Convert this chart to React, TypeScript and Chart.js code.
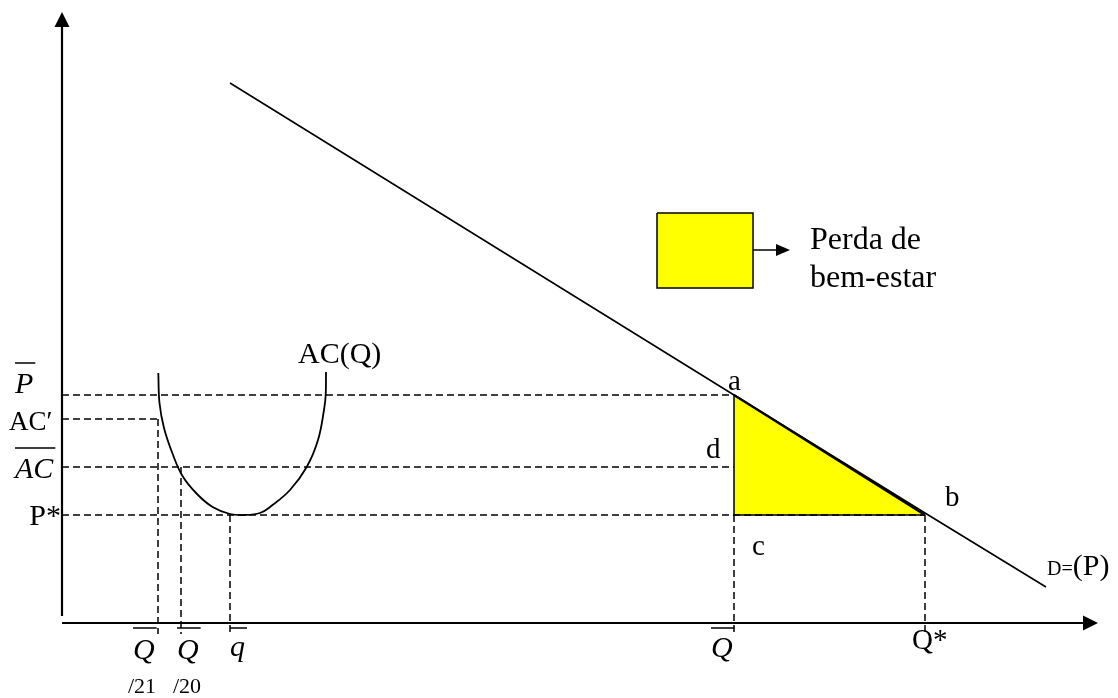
import React, { useEffect, useRef } from "react";
import { Chart, registerables } from "chart.js";
Chart.register(...registerables);

// ---- Diagram values (quantity on x, price on y, arbitrary units) ----
const quantityNames = ["Q̄/21", "Q̄/20", "q̄", "Q̄", "Q*"];
const quantityValues = [9.6, 11.9, 16.8, 67.2, 86.3];
const priceNames = ["P̄", "AC′", "AC̄", "P*"];
const priceValues = [22.8, 20.4, 15.6, 10.8];

// Demand curve D=(P)
const demandQ = [16.8, 67.2, 86.3, 98.4];
const demandP = [54.0, 22.8, 11.0, 3.6];

// Average cost curve AC(Q)
const acCurveQ = [9.63, 9.75, 10.2, 11.03, 12.05, 13.5, 15.06, 16.8, 18.3, 19.8, 20.8, 22.8, 24.47, 25.6, 26.2, 26.37, 26.4];
const acCurveP = [25.0, 22.0, 19.5, 17.0, 14.7, 12.9, 11.6, 10.9, 10.8, 11.0, 11.6, 13.3, 15.6, 18.3, 21.3, 22.8, 25.1];

// Legend box (welfare loss) extent
const legendBoxQ = [59.5, 69.1];
const legendBoxP = [33.5, 41.0];
const legendArrowQ = [69.1, 72.8];
const legendArrowP = 37.3;

// Axes extent
const axisQMax = 103.6;
const axisPMax = 61.1;
const axisPMin = 0.7;
const guideBottom = -1.1;

const [Q21, Q20, qBar, QBar, QStar] = quantityValues;
const [PBar, ACprime, ACBar, PStar] = priceValues;

type Label = {
  text: string;
  x: number;
  y: number;
  size: number;
  italic?: boolean;
  align?: CanvasTextAlign;
  overline?: number; // data y of overline
};

const labels: Label[] = [
  { text: "P", x: -4.7, y: 23.0, size: 30, italic: true, overline: 26.0 },
  { text: "AC′", x: -5.3, y: 19.3, size: 27 },
  { text: "AC", x: -4.7, y: 14.5, size: 30, italic: true, overline: 17.5 },
  { text: "P*", x: -0.1, y: 9.8, size: 30, align: "right" },
  { text: "AC(Q)", x: 23.6, y: 26.0, size: 30 },
  { text: "a", x: 66.6, y: 23.3, size: 29 },
  { text: "d", x: 64.4, y: 16.5, size: 29 },
  { text: "b", x: 88.3, y: 11.7, size: 29 },
  { text: "c", x: 69.0, y: 6.8, size: 29 },
  { text: "Q", x: 7.1, y: -3.6, size: 30, italic: true, overline: -0.5 },
  { text: "/21", x: 6.6, y: -7.0, size: 22 },
  { text: "Q", x: 11.5, y: -3.6, size: 30, italic: true, overline: -0.5 },
  { text: "/20", x: 11.1, y: -7.0, size: 22 },
  { text: "q", x: 16.8, y: -3.3, size: 30, italic: true, overline: -0.5 },
  { text: "Q", x: 64.9, y: -3.4, size: 30, italic: true, overline: -0.5 },
  { text: "Q*", x: 85.0, y: -2.6, size: 29 },
  { text: "Perda de", x: 74.8, y: 37.4, size: 32 },
  { text: "bem-estar", x: 74.8, y: 33.6, size: 32 },
];

const FONT = '"Liberation Serif", "Times New Roman", serif';

const pts = (xs: number[], ys: number[]) => xs.map((x, i) => ({ x, y: ys[i] }));

const solid = (data: { x: number; y: number }[], width = 1.5, extra: any = {}) => ({
  data,
  borderColor: "#000",
  borderWidth: width,
  pointRadius: 0,
  fill: false,
  tension: 0,
  order: 1,
  ...extra,
});
const dashed = (data: { x: number; y: number }[]) =>
  solid(data, 1.5, { borderDash: [7, 4] });

const drawPlugin = {
  id: "diagramDecor",
  afterDatasetsDraw(chart: any) {
    const { ctx } = chart;
    const xs = chart.scales.x;
    const ys = chart.scales.y;
    const px = (v: number) => xs.getPixelForValue(v);
    const py = (v: number) => ys.getPixelForValue(v);
    ctx.save();
    ctx.fillStyle = "#000";
    ctx.strokeStyle = "#000";
    // Axis arrowheads
    const yt = { x: px(0), y: py(axisPMax) };
    ctx.beginPath();
    ctx.moveTo(yt.x, yt.y);
    ctx.lineTo(yt.x - 7.5, yt.y + 15);
    ctx.lineTo(yt.x + 7.5, yt.y + 15);
    ctx.closePath();
    ctx.fill();
    const xt = { x: px(axisQMax), y: py(0) };
    ctx.beginPath();
    ctx.moveTo(xt.x, xt.y);
    ctx.lineTo(xt.x - 15, xt.y - 7.5);
    ctx.lineTo(xt.x - 15, xt.y + 7.5);
    ctx.closePath();
    ctx.fill();
    // Legend arrowhead
    const lt = { x: px(legendArrowQ[1]), y: py(legendArrowP) };
    ctx.beginPath();
    ctx.moveTo(lt.x, lt.y);
    ctx.lineTo(lt.x - 14, lt.y - 6);
    ctx.lineTo(lt.x - 14, lt.y + 6);
    ctx.closePath();
    ctx.fill();
    // Labels
    ctx.textBaseline = "alphabetic";
    labels.forEach((l) => {
      ctx.font = `${l.italic ? "italic " : ""}${l.size}px ${FONT}`;
      ctx.textAlign = l.align || "left";
      const x = px(l.x);
      const y = py(l.y);
      ctx.fillText(l.text, x, y);
      if (l.overline !== undefined) {
        const w = ctx.measureText(l.text).width;
        const oy = py(l.overline);
        ctx.lineWidth = 1.5;
        ctx.beginPath();
        ctx.moveTo(x, oy);
        ctx.lineTo(x + w + 2, oy);
        ctx.stroke();
      }
    });
    // D=(P) with mixed sizes
    const dx = px(98.5);
    const dy = py(4.8);
    ctx.textAlign = "left";
    ctx.font = `20px ${FONT}`;
    ctx.fillText("D=", dx, dy);
    const w1 = ctx.measureText("D=").width;
    ctx.font = `30px ${FONT}`;
    ctx.fillText("(P)", dx + w1, dy);
    ctx.restore();
  },
};

export default function App() {
  const ref = useRef<HTMLCanvasElement | null>(null);
  useEffect(() => {
    if (!ref.current) return;
    const datasets: any[] = [
      // Welfare-loss triangle fill
      solid(pts([QBar, QStar], [PBar, PStar]), 0, {
        fill: { value: PStar },
        backgroundColor: "#ffff00",
        order: 5,
      }),
      // Legend box fill
      solid(pts(legendBoxQ, [legendBoxP[1], legendBoxP[1]]), 0, {
        fill: { value: legendBoxP[0] },
        backgroundColor: "#ffff00",
        order: 5,
      }),
      // Legend box border
      solid(
        pts(
          [legendBoxQ[0], legendBoxQ[1], legendBoxQ[1], legendBoxQ[0], legendBoxQ[0]],
          [legendBoxP[1], legendBoxP[1], legendBoxP[0], legendBoxP[0], legendBoxP[1]]
        ),
        1.5
      ),
      // Legend arrow shaft
      solid(pts([legendArrowQ[0], legendArrowQ[1] - 1.2], [legendArrowP, legendArrowP]), 1.5),
      // Axes
      solid(pts([0, 0], [axisPMin, axisPMax - 1.3]), 2.2),
      solid(pts([0, axisQMax - 1.3], [0, 0]), 2.2),
      // Demand curve
      solid(pts(demandQ, demandP), 1.6),
      // Triangle edges
      solid(pts([QBar, QBar, QStar], [PBar, PStar, PStar]), 1.5),
      solid(pts([QBar, QStar], [PBar, PStar]), 2.2),
      // AC curve
      solid(pts(acCurveQ, acCurveP), 1.8, { tension: 0.4 }),
      // Horizontal guides
      dashed(pts([0, QBar], [PBar, PBar])),
      dashed(pts([0, Q21], [ACprime, ACprime])),
      dashed(pts([0, QBar], [ACBar, ACBar])),
      dashed(pts([0, QStar], [PStar, PStar])),
      // Vertical guides
      dashed(pts([Q21, Q21], [ACprime, guideBottom])),
      dashed(pts([Q20, Q20], [ACBar, guideBottom])),
      dashed(pts([qBar, qBar], [PStar, guideBottom])),
      dashed(pts([QBar, QBar], [PStar, guideBottom])),
      dashed(pts([QStar, QStar], [PStar, guideBottom])),
    ];
    const chart = new Chart(ref.current, {
      type: "line",
      data: { datasets },
      options: {
        animation: false,
        responsive: false,
        maintainAspectRatio: false,
        layout: { padding: 0 },
        parsing: false as any,
        normalized: true,
        plugins: { legend: { display: false }, tooltip: { enabled: false } },
        elements: { point: { radius: 0 } },
        scales: {
          x: { type: "linear", min: -6.2, max: 105.6, display: false },
          y: { type: "linear", min: -7.5, max: 62.3, display: false },
        },
      },
      plugins: [drawPlugin],
    });
    return () => chart.destroy();
  }, []);
  return (
    <div style={{ position: "absolute", left: 0, top: 0, width: 1118, height: 698, background: "#fff" }}>
      <canvas ref={ref} width={1118} height={698} style={{ display: "block" }} />
    </div>
  );
}
